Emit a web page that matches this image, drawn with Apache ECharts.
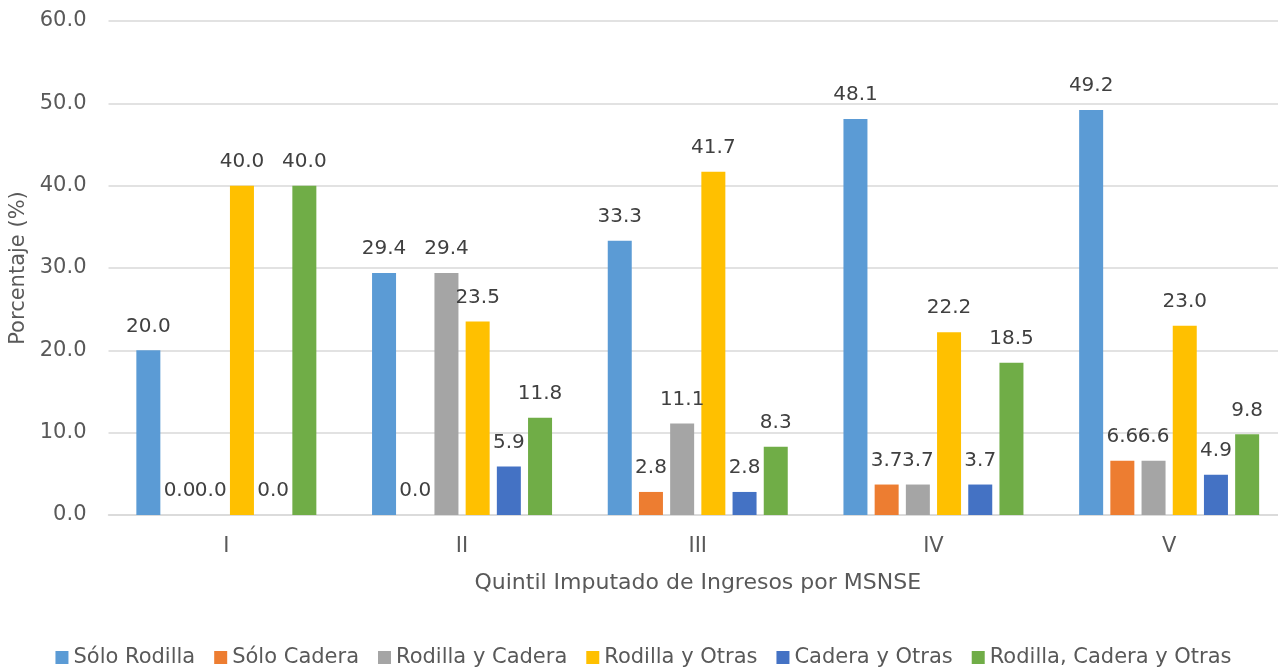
<!DOCTYPE html>
<html>
<head>
<meta charset="utf-8">
<script src="https://cdn.jsdelivr.net/npm/echarts@6/dist/echarts.min.js"></script>
<style>
html,body{margin:0;padding:0;background:#fff;overflow:hidden;width:1278px;height:668px;}
#chart{width:1287px;height:668px;}
</style>
</head>
<body>
<div id="chart"></div>
<script>
const categories = ['I', 'II', 'III', 'IV', 'V'];
const seriesNames = ['Sólo Rodilla', 'Sólo Cadera', 'Rodilla y Cadera', 'Rodilla y Otras', 'Cadera y Otras', 'Rodilla, Cadera y Otras'];
const soloRodilla = [20.0, 29.4, 33.3, 48.1, 49.2];
const soloCadera = [0.0, 0.0, 2.8, 3.7, 6.6];
const rodillaCadera = [0.0, 29.4, 11.1, 3.7, 6.6];
const rodillaOtras = [40.0, 23.5, 41.7, 22.2, 23.0];
const caderaOtras = [0.0, 5.9, 2.8, 3.7, 4.9];
const rodillaCaderaOtras = [40.0, 11.8, 8.3, 18.5, 9.8];
const seriesData = [soloRodilla, soloCadera, rodillaCadera, rodillaOtras, caderaOtras, rodillaCaderaOtras];
const colors = ['#5B9BD5', '#ED7D31', '#A5A5A5', '#FFC000', '#4472C4', '#70AD47'];

const FONT = 'DejaVu Sans';
const chart = echarts.init(document.getElementById('chart'), null, {renderer: 'canvas'});
chart.setOption({
  animation: false,
  color: colors,
  textStyle: {fontFamily: FONT},
  grid: {left: 108.5, right: 0, top: 21, bottom: 153, containLabel: false, outerBoundsMode: 'none'},
  legend: {
    data: seriesNames,
    left: 'center',
    top: 642,
    padding: [5, 14, 5, 5],
    itemWidth: 13,
    itemHeight: 13,
    itemGap: 19,
    icon: 'rect',
    textStyle: {fontFamily: FONT, fontSize: 21, color: '#595959', padding: [0, 0, 0, 0]}
  },
  xAxis: {
    type: 'category',
    data: categories,
    name: 'Quintil Imputado de Ingresos por MSNSE',
    nameLocation: 'middle',
    nameGap: 57,
    nameTextStyle: {fontFamily: FONT, fontSize: 22, color: '#595959'},
    axisLine: {lineStyle: {color: '#D9D9D9', width: 1.5}},
    axisTick: {show: false},
    axisLabel: {fontFamily: FONT, fontSize: 21, color: '#595959', margin: 21}
  },
  yAxis: {
    type: 'value',
    min: 0,
    max: 60,
    interval: 10,
    name: 'Porcentaje (%)',
    nameLocation: 'middle',
    nameGap: 74,
    nameTextStyle: {fontFamily: FONT, fontSize: 21, color: '#595959'},
    axisLine: {show: false},
    axisTick: {show: false},
    splitLine: {lineStyle: {color: '#D9D9D9', width: 1.5}},
    axisLabel: {fontFamily: FONT, fontSize: 21, color: '#595959', margin: 22,
      formatter: v => v.toFixed(1)}
  },
  series: seriesNames.map((name, i) => ({
    name: name,
    type: 'bar',
    data: seriesData[i],
    barWidth: 24,
    barGap: '30%',
    itemStyle: {color: colors[i]},
    label: {
      show: true,
      position: 'top',
      distance: 14,
      fontFamily: FONT,
      fontSize: 20,
      color: '#404040',
      formatter: p => p.value.toFixed(1)
    }
  }))
});
</script>
</body>
</html>
